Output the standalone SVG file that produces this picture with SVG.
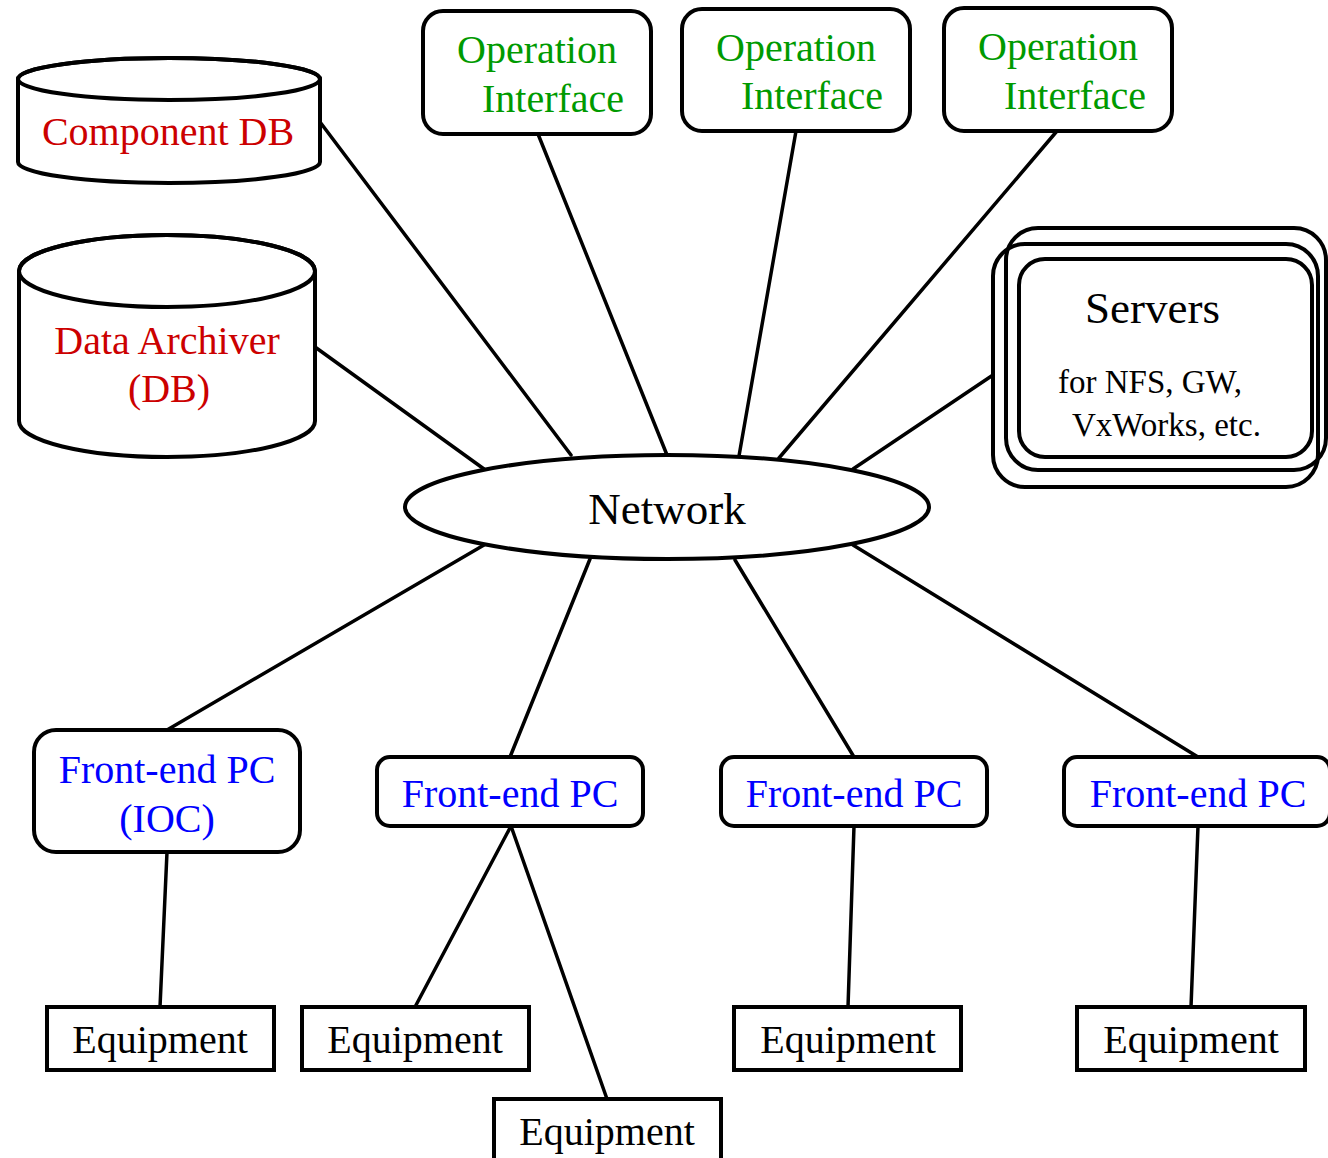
<svg xmlns="http://www.w3.org/2000/svg" width="1328" height="1158" viewBox="0 0 1328 1158">
<style>
text{font-family:"Liberation Serif","Times New Roman",serif;font-size:40px}
.red{fill:#cc0000}
.green{fill:#009a00}
.blue{fill:#0000ff}
.blk{fill:#000}
.mid{text-anchor:middle}
.shape{fill:#fff;stroke:#000;stroke-width:4}
.open{fill:none;stroke:#000;stroke-width:4}
.conn line{stroke:#000;stroke-width:3.5;stroke-linecap:round}
</style>
<rect width="1328" height="1158" fill="#fff"/>
<g id="connectors" class="conn">
<line x1="320" y1="122" x2="571" y2="455"/>
<line x1="315" y1="347" x2="484" y2="469"/>
<line x1="538" y1="134" x2="667" y2="455"/>
<line x1="796" y1="131" x2="739" y2="456"/>
<line x1="1057" y1="131" x2="779" y2="458"/>
<line x1="993" y1="375" x2="853" y2="469"/>
<line x1="484" y1="545" x2="167" y2="730"/>
<line x1="590" y1="559" x2="510" y2="757"/>
<line x1="735" y1="560" x2="854" y2="757"/>
<line x1="853" y1="545" x2="1198" y2="757"/>
<line x1="167" y1="852" x2="160" y2="1007"/>
<line x1="511" y1="826" x2="415" y2="1007"/>
<line x1="511" y1="826" x2="607" y2="1099"/>
<line x1="854" y1="826" x2="848" y2="1007"/>
<line x1="1198" y1="826" x2="1191" y2="1007"/>
</g>
<g id="componentdb">
<path class="shape" d="M18,79 L18,162 A151,21 0 0 0 320,162 L320,79 A151,21 0 0 0 18,79 Z"/>
<ellipse class="open" cx="169" cy="79" rx="151" ry="21"/>
<text class="red mid" x="168" y="145">Component DB</text>
</g>
<g id="dataarchiver">
<path class="shape" d="M19,271 L19,421 A148,36 0 0 0 315,421 L315,271 A148,36 0 0 0 19,271 Z"/>
<ellipse class="open" cx="167" cy="271" rx="148" ry="36"/>
<text class="red mid" x="167" y="354">Data Archiver</text>
<text class="red mid" x="169" y="402">(DB)</text>
</g>
<g id="oi1">
<rect class="shape" x="423" y="11" width="228" height="123" rx="20"/>
<text class="green" x="457" y="63">Operation</text>
<text class="green" x="482" y="112">Interface</text>
</g>
<g id="oi2">
<rect class="shape" x="682" y="9" width="228" height="122" rx="20"/>
<text class="green" x="716" y="61">Operation</text>
<text class="green" x="741" y="109">Interface</text>
</g>
<g id="oi3">
<rect class="shape" x="944" y="8" width="228" height="123" rx="20"/>
<text class="green" x="978" y="60">Operation</text>
<text class="green" x="1004" y="109">Interface</text>
</g>
<g id="servers">
<rect class="open" x="1006" y="228" width="320" height="242" rx="32"/>
<rect class="open" x="993" y="244" width="325" height="243" rx="32"/>
<rect class="shape" x="1019" y="259" width="293" height="198" rx="26"/>
<text class="blk" x="1085" y="323" style="font-size:45px">Servers</text>
<text class="blk" x="1058" y="393" style="font-size:33px">for NFS, GW,</text>
<text class="blk" x="1072" y="436" style="font-size:33px">VxWorks, etc.</text>
</g>
<g id="network">
<ellipse class="shape" cx="667" cy="507" rx="262" ry="52"/>
<text class="blk mid" x="667" y="524" style="font-size:45px">Network</text>
</g>
<g id="fe1">
<rect class="shape" x="34" y="730" width="266" height="122" rx="22"/>
<text class="blue mid" x="167" y="783">Front-end PC</text>
<text class="blue mid" x="167" y="832">(IOC)</text>
</g>
<g id="fe2">
<rect class="shape" x="377" y="757" width="266" height="69" rx="13"/>
<text class="blue mid" x="510" y="807">Front-end PC</text>
</g>
<g id="fe3">
<rect class="shape" x="721" y="757" width="266" height="69" rx="13"/>
<text class="blue mid" x="854" y="807">Front-end PC</text>
</g>
<g id="fe4">
<rect class="shape" x="1064" y="757" width="266" height="69" rx="13"/>
<text class="blue mid" x="1198" y="807">Front-end PC</text>
</g>
<g id="eq1">
<rect class="shape" x="47" y="1007" width="227" height="63"/>
<text class="blk mid" x="160" y="1053">Equipment</text>
</g>
<g id="eq2">
<rect class="shape" x="302" y="1007" width="227" height="63"/>
<text class="blk mid" x="415" y="1053">Equipment</text>
</g>
<g id="eq3">
<rect class="shape" x="494" y="1099" width="227" height="69"/>
<text class="blk mid" x="607" y="1145">Equipment</text>
</g>
<g id="eq4">
<rect class="shape" x="734" y="1007" width="227" height="63"/>
<text class="blk mid" x="848" y="1053">Equipment</text>
</g>
<g id="eq5">
<rect class="shape" x="1077" y="1007" width="228" height="63"/>
<text class="blk mid" x="1191" y="1053">Equipment</text>
</g>
</svg>
